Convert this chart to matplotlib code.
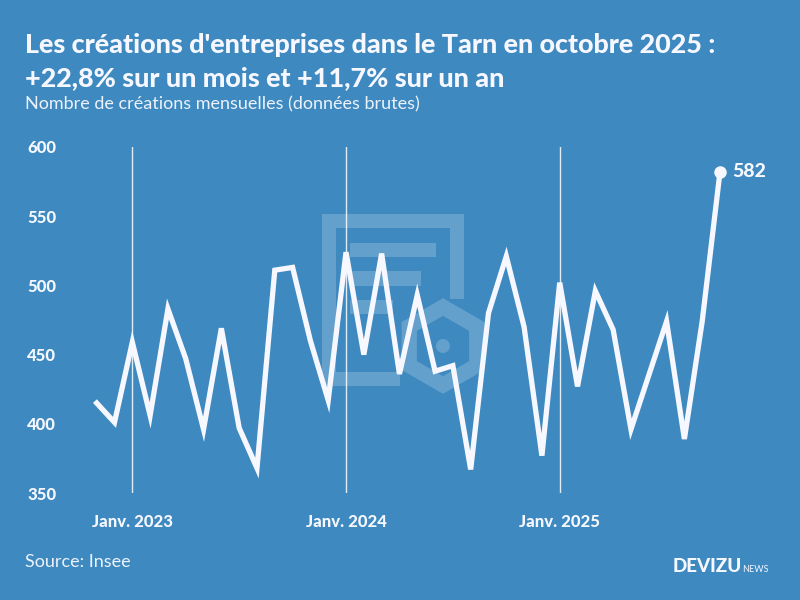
import numpy as np
import matplotlib.pyplot as plt
from matplotlib.patches import Rectangle, RegularPolygon, Circle

# Créations d'entreprises mensuelles dans le Tarn, nov. 2022 -> oct. 2025
months = ['2022-11', '2022-12',
          '2023-01', '2023-02', '2023-03', '2023-04', '2023-05', '2023-06',
          '2023-07', '2023-08', '2023-09', '2023-10', '2023-11', '2023-12',
          '2024-01', '2024-02', '2024-03', '2024-04', '2024-05', '2024-06',
          '2024-07', '2024-08', '2024-09', '2024-10', '2024-11', '2024-12',
          '2025-01', '2025-02', '2025-03', '2025-04', '2025-05', '2025-06',
          '2025-07', '2025-08', '2025-09', '2025-10']
creations = [415, 401, 459, 406, 483, 447, 396, 469, 397, 368, 511, 513,
             460, 417, 524, 450, 523, 436, 493, 438, 442, 367, 480, 521,
             470, 377, 502, 427, 496, 468, 396, 435, 474, 389, 474, 582]
year_ticks = ['2023-01', '2024-01', '2025-01']
year_labels = ['Janv. 2023', 'Janv. 2024', 'Janv. 2025']
y_ticks = [350, 400, 450, 500, 550, 600]

BG = '#3d89c0'
WHITE = '#f7f8ff'
SOFT = '#edf2fa'
plt.rcParams['font.family'] = ['Lato', 'DejaVu Sans']

fig = plt.figure(figsize=(8, 6), dpi=100, facecolor=BG)

# background layer in pixel coordinates for the watermark
bg = fig.add_axes([0, 0, 1, 1], zorder=0)
bg.set_xlim(0, 800)
bg.set_ylim(600, 0)
bg.axis('off')
wm = dict(color='white', alpha=0.2, lw=0)
for (x, y, w, h) in [(322, 214, 14, 172), (336, 214, 128, 14), (450, 228, 14, 71),
                     (336, 372, 64, 14), (350, 243, 86, 14), (350, 271, 71, 15),
                     (350, 300, 43, 14)]:
    bg.add_patch(Rectangle((x, y), w, h, **wm))
hexo = RegularPolygon((443, 346), 6, radius=39, orientation=0, fill=False,
                      ec='white', alpha=0.2, lw=11)
bg.add_patch(hexo)
bg.add_patch(Circle((443, 346), 7, **wm))

# main chart
ax = fig.add_axes([96.7 / 800, 107 / 600, 623.3 / 800, 346 / 600], zorder=1)
ax.patch.set_alpha(0)
x = np.arange(len(creations))
ax.plot(x, creations, color=WHITE, lw=3.8, solid_joinstyle='miter',
        zorder=3, clip_on=False)
ax.plot(x[-1], creations[-1], 'o', color=WHITE, ms=8, zorder=4, clip_on=False)
ax.annotate(str(creations[-1]), (x[-1], creations[-1]), xytext=(9, 0),
            textcoords='offset points', va='center', ha='left',
            color=WHITE, fontsize=14, weight='black')

ax.set_xlim(0, len(creations) - 1)
ax.set_ylim(350, 600)
ax.set_xticks([months.index(m) for m in year_ticks])
ax.set_xticklabels(year_labels)
ax.set_yticks(y_ticks)
ax.tick_params(axis='x', length=0, pad=15, labelsize=12, labelcolor=WHITE)
ax.tick_params(axis='y', length=0, pad=50, labelsize=12, labelcolor=WHITE)
for lab in ax.get_yticklabels():
    lab.set_horizontalalignment('left')
    lab.set_fontweight('black')
for lab in ax.get_xticklabels():
    lab.set_fontweight('black')
ax.grid(axis='x', color='white', lw=1, alpha=0.85)
for s in ax.spines.values():
    s.set_visible(False)

fig.text(25 / 800, 1 - 45 / 600, "Les créations d'entreprises dans le Tarn en octobre 2025 :",
         color=WHITE, fontsize=19.4, fontweight='black', va='center')
fig.text(25 / 800, 1 - 78 / 600, "+22,8% sur un mois et +11,7% sur un an",
         color=WHITE, fontsize=19.4, fontweight='black', va='center')
fig.text(25 / 800, 1 - 104 / 600, "Nombre de créations mensuelles (données brutes)",
         color=SOFT, fontsize=13, fontweight='normal', va='center')
fig.text(25 / 800, 1 - 562 / 600, "Source: Insee",
         color=SOFT, fontsize=13, fontweight='normal', va='center')
fig.text(673 / 800, 1 - 566 / 600, "DEVIZU", color=WHITE, fontsize=13.5,
         fontweight='black', va='center')
fig.text(742 / 800, 1 - 570 / 600, "NEWS", color=WHITE, fontsize=6.5, va='center')

fig.savefig('out.png', dpi=100, facecolor=BG)
